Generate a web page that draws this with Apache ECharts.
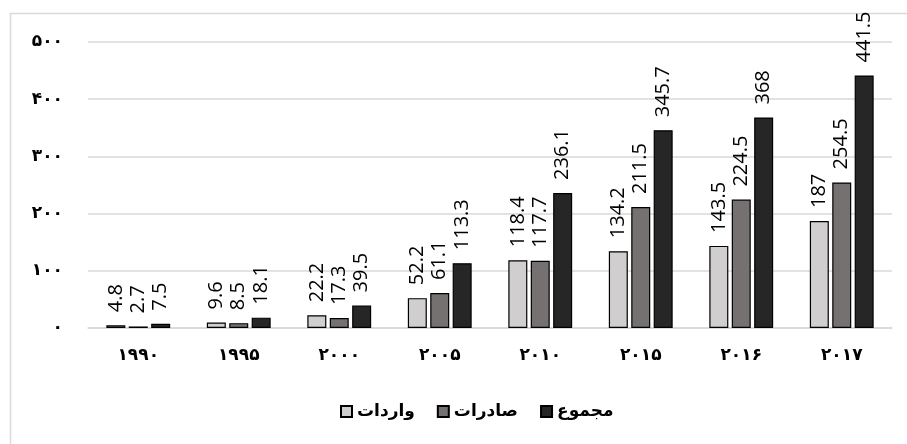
<!DOCTYPE html>
<html>
<head>
<meta charset="utf-8">
<script src="https://cdn.jsdelivr.net/npm/echarts@6/dist/echarts.min.js"></script>
<style>
  html, body { margin: 0; padding: 0; background: #fff; }
  #chart { width: 907px; height: 444px; }
</style>
</head>
<body>
<div id="chart"></div>
<script>
// Years (shown with Persian digits)
const categories = ['۱۹۹۰', '۱۹۹۵', '۲۰۰۰', '۲۰۰۵', '۲۰۱۰', '۲۰۱۵', '۲۰۱۶', '۲۰۱۷'];
// Series names
const seriesNames = ['واردات', 'صادرات', 'مجموع'];
// Values per year
const imports = [4.8, 9.6, 22.2, 52.2, 118.4, 134.2, 143.5, 187];
const exports = [2.7, 8.5, 17.3, 61.1, 117.7, 211.5, 224.5, 254.5];
const totals  = [7.5, 18.1, 39.5, 113.3, 236.1, 345.7, 368, 441.5];
// Value-axis tick labels
const yTickLabels = ['۰', '۱۰۰', '۲۰۰', '۳۰۰', '۴۰۰', '۵۰۰'];

const colors = ['#d0cece', '#767171', '#262626'];

const chart = echarts.init(document.getElementById('chart'), null, { renderer: 'canvas' });

function barSeries(name, data, color) {
  return {
    name: name,
    type: 'bar',
    data: data,
    barWidth: 19,
    barGap: '18%',
    itemStyle: { color: color, borderColor: '#000', borderWidth: 1.2 },
    label: {
      show: true,
      position: 'top',
      distance: 13,
      rotate: 90,
      align: 'left',
      verticalAlign: 'middle',
      fontFamily: 'Open Sans',
      fontSize: 20,
      color: '#000',
      formatter: p => String(p.value)
    }
  };
}

chart.setOption({
  animation: false,
  backgroundColor: '#fff',
  graphic: [{
    type: 'rect',
    shape: { x: 10.5, y: 13.5, width: 1000, height: 1000 },
    style: { fill: 'none', stroke: '#d9d9d9', lineWidth: 1.5 },
    silent: true
  }],
  grid: { left: 88, right: 15, top: 42, bottom: 116, containLabel: false },
  legend: {
    data: seriesNames,
    bottom: 19,
    left: 335,
    itemWidth: 11,
    itemHeight: 11,
    itemGap: 22,
    icon: 'rect',
    textStyle: { fontFamily: 'DejaVu Sans', fontWeight: 'bold', fontSize: 17, color: '#000' }
  },
  xAxis: {
    type: 'category',
    data: categories,
    axisLine: { show: true, lineStyle: { color: '#d9d9d9', width: 1.5 } },
    axisTick: { show: false },
    axisLabel: {
      margin: 19,
      fontFamily: 'DejaVu Sans',
      fontWeight: 'bold',
      fontSize: 17,
      color: '#000'
    }
  },
  yAxis: {
    type: 'value',
    min: 0,
    max: 500,
    interval: 100,
    axisLine: { show: false },
    axisTick: { show: false },
    splitLine: { lineStyle: { color: '#d9d9d9', width: 1.5 } },
    axisLabel: {
      margin: 25,
      fontFamily: 'DejaVu Sans',
      fontWeight: 'bold',
      fontSize: 17,
      color: '#000',
      formatter: v => yTickLabels[Math.round(v / 100)]
    }
  },
  series: [
    barSeries(seriesNames[0], imports, colors[0]),
    barSeries(seriesNames[1], exports, colors[1]),
    barSeries(seriesNames[2], totals, colors[2])
  ]
});
</script>
</body>
</html>
